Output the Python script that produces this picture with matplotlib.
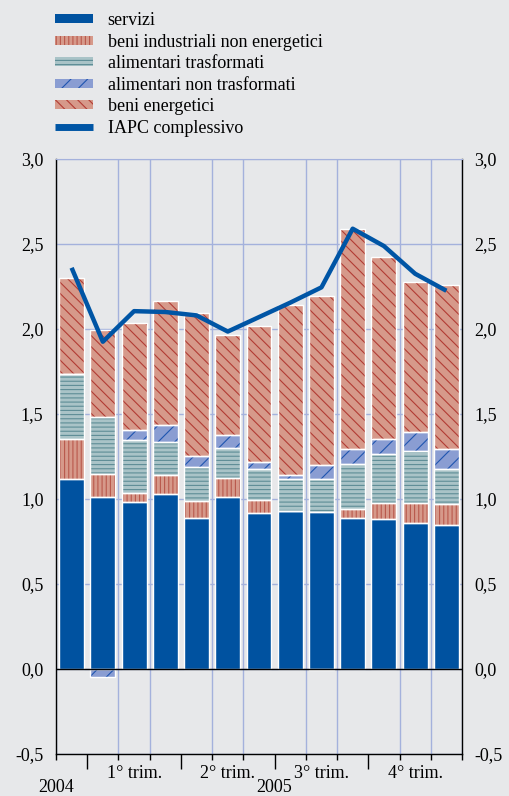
import numpy as np
import matplotlib
matplotlib.use("Agg")
import matplotlib.pyplot as plt
from matplotlib.patches import Patch
from matplotlib.lines import Line2D

# ---- data ----
months = ["dic 2004", "gen", "feb", "mar", "apr", "mag", "giu",
          "lug", "ago", "set", "ott", "nov", "dic"]
servizi = [1.12, 1.01, 0.98, 1.03, 0.89, 1.01, 0.92, 0.93, 0.925, 0.89, 0.885, 0.86, 0.85]
beni_industriali = [0.235, 0.135, 0.053, 0.109, 0.10, 0.111, 0.074, 0.0, -0.005, 0.049, 0.094, 0.118, 0.118]
alim_trasformati = [0.38, 0.34, 0.314, 0.196, 0.198, 0.179, 0.182, 0.187, 0.193, 0.269, 0.285, 0.305, 0.209]
alim_non_trasformati = [0.0, -0.045, 0.059, 0.102, 0.063, 0.078, 0.044, 0.025, 0.082, 0.084, 0.088, 0.112, 0.118]
beni_energetici = [0.565, 0.51, 0.631, 0.726, 0.843, 0.587, 0.796, 1.0, 0.994, 1.298, 1.074, 0.882, 0.961]
iapc = [2.36, 1.925, 2.105, 2.10, 2.08, 1.985, 2.07, 2.155, 2.245, 2.59, 2.488, 2.325, 2.225]

series_names = ["servizi", "beni industriali non energetici", "alimentari trasformati",
                "alimentari non trasformati", "beni energetici"]
line_name = "IAPC complessivo"
yticks = [-0.5, 0.0, 0.5, 1.0, 1.5, 2.0, 2.5, 3.0]
quarter_labels = ["1° trim.", "2° trim.", "3° trim.", "4° trim."]
year_labels = ["2004", "2005"]

# ---- style ----
BG = "#e7e8ea"
GRID = "#a4b1dc"
styles = [
    dict(fc="#0052a0", hc=None, hatch=None),
    dict(fc="#d6998a", hc="#b9594c", hatch="||||"),
    dict(fc="#a9c3c7", hc="#5e8d96", hatch="----"),
    dict(fc="#8a9dd2", hc="#1f55b0", hatch="//"),
    dict(fc="#d6998a", hc="#b23c34", hatch="\\\\\\"),
]
plt.rcParams["hatch.linewidth"] = 0.8
plt.rcParams["font.family"] = ["Liberation Serif", "DejaVu Serif"]

fig = plt.figure(figsize=(5.10, 7.96), dpi=100, facecolor=BG)
ax = fig.add_axes([56/510, 1-754/796, (462-56)/510, (754-159)/796])
ax.set_facecolor(BG)

x = np.arange(len(months))
width = 0.8
pos = np.zeros(len(x))
neg = np.zeros(len(x))
data = [servizi, beni_industriali, alim_trasformati, alim_non_trasformati, beni_energetici]
for vals, st in zip(data, styles):
    v = np.array(vals, dtype=float)
    bottom = np.where(v >= 0, pos, neg)
    ax.bar(x, v, width, bottom=bottom, color=st["fc"], edgecolor="none", linewidth=0, zorder=2)
    if st["hatch"]:
        ax.bar(x, v, width, bottom=bottom, color="none", edgecolor=st["hc"],
               hatch=st["hatch"], linewidth=0, zorder=3)
    ax.bar(x, v, width, bottom=bottom, color="none", edgecolor="white", linewidth=1.0, zorder=4)
    pos = np.where(v >= 0, pos + v, pos)
    neg = np.where(v < 0, neg + v, neg)

ax.plot(x, iapc, color="#0055a5", lw=3.2, zorder=6, solid_capstyle="butt")
ax.axhline(0, color="black", lw=1.0, zorder=5)

ax.set_xlim(-0.5, len(x) - 0.5)
ax.set_ylim(-0.5, 3.0)
ax.set_yticks(yticks)
ax.set_yticklabels([f"{t:.1f}".replace(".", ",") for t in yticks])
ax.tick_params(axis="y", length=0, labelsize=13, pad=9, labelright=True, labelleft=True)

bounds = np.arange(-0.5, len(x), 1.0)
ax.set_xticks([0.5, 3.5, 6.5, 9.5])
ax.set_xticklabels([])
ax.set_xticks(bounds, minor=True)
ax.tick_params(axis="x", which="major", length=11, width=1, color="black")
ax.tick_params(axis="x", which="minor", length=4, width=1, color="black")
ax.grid(axis="y", which="major", color=GRID, lw=1, zorder=0)
ax.grid(axis="x", which="minor", color=GRID, lw=1, zorder=0)
ax.set_axisbelow(True)

for s in ["left", "right", "bottom"]:
    ax.spines[s].set_color("black")
    ax.spines[s].set_linewidth(1.0)
ax.spines["top"].set_color(GRID)

for i, lab in enumerate(quarter_labels):
    ax.annotate(lab, xy=(2 + 3 * i, 0), xycoords=("data", "axes fraction"),
                xytext=(0, -14), textcoords="offset points", ha="center", va="center", fontsize=13)
ax.annotate(year_labels[0], xy=(-0.5, 0), xycoords=("data", "axes fraction"),
            xytext=(0, -24), textcoords="offset points", ha="center", va="center", fontsize=13)
ax.annotate(year_labels[1], xy=(6.5, 0), xycoords=("data", "axes fraction"),
            xytext=(0, -24), textcoords="offset points", ha="center", va="center", fontsize=13)

handles = []
for name, st in zip(series_names, styles):
    if st["hatch"]:
        handles.append(Patch(facecolor=st["fc"], edgecolor=st["hc"], hatch=st["hatch"], linewidth=0, label=name))
    else:
        handles.append(Patch(facecolor=st["fc"], edgecolor="none", linewidth=0, label=name))
handles.append(Line2D([], [], color="#0055a5", lw=5, label=line_name, solid_capstyle="butt"))
fig.legend(handles=handles, loc="upper left", bbox_to_anchor=(48/510, 1 - 5/796),
           frameon=False, fontsize=13, handlelength=2.1, handleheight=0.4,
           handletextpad=0.8, labelspacing=0.25, borderaxespad=0)

fig.savefig("out.png", dpi=100, facecolor=BG)
